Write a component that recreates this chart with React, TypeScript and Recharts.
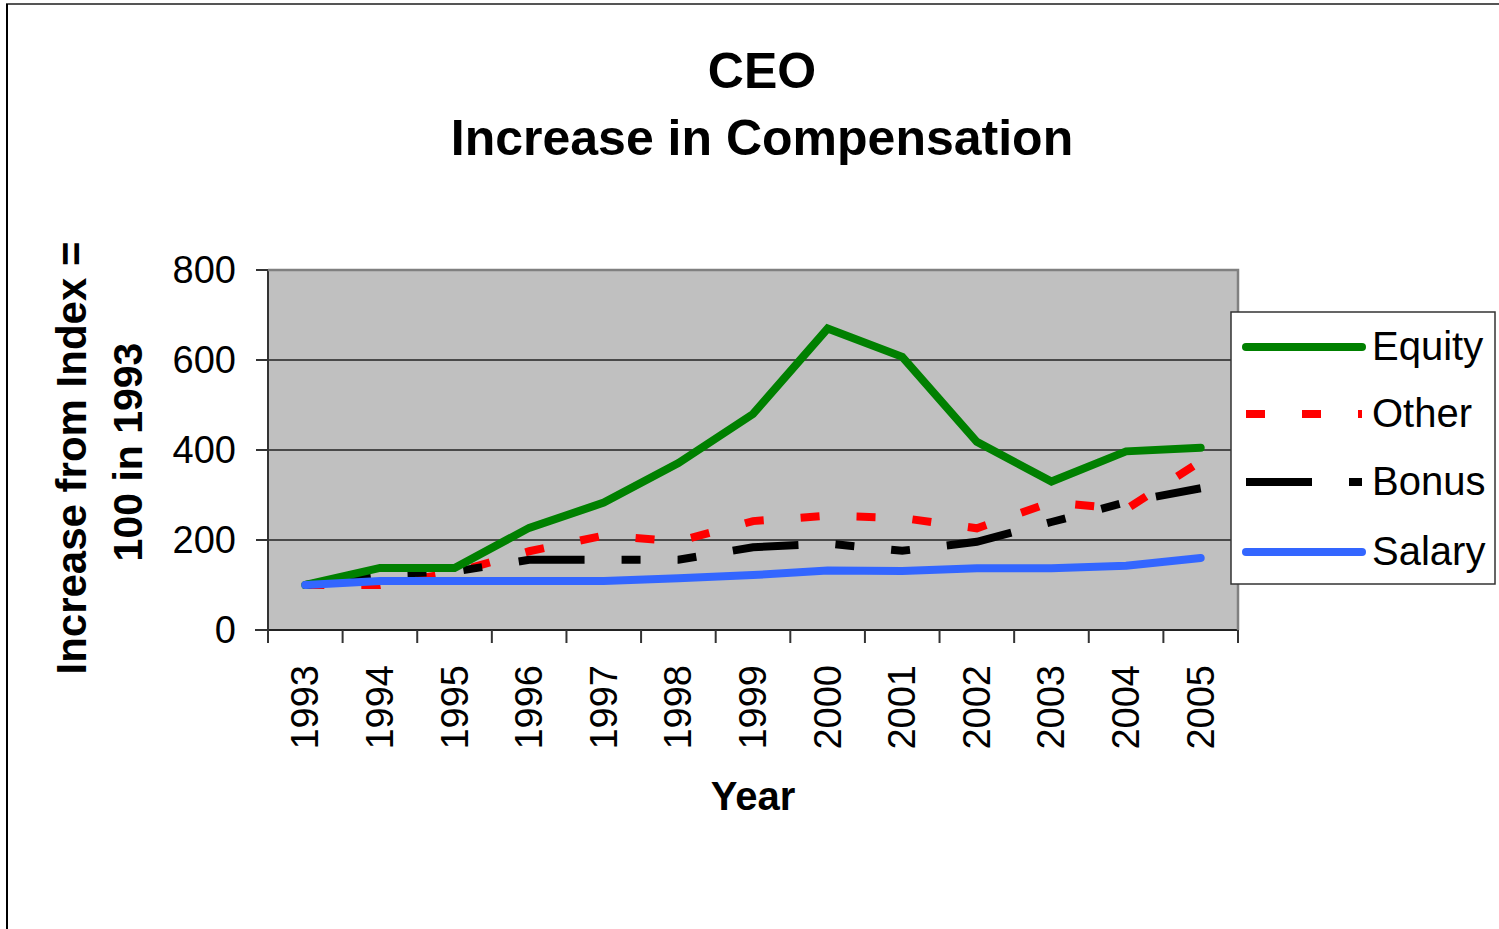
import React from 'react';
import { LineChart, Line, XAxis, YAxis, CartesianGrid, ReferenceLine } from 'recharts';

const years = ['1993', '1994', '1995', '1996', '1997', '1998', '1999', '2000', '2001', '2002', '2003', '2004', '2005'];
const equity = [100, 138, 138, 227, 283, 371, 480, 670, 607, 418, 330, 397, 405];
const other = [100, 100, 128, 175, 210, 197, 242, 254, 249, 226, 284, 268, 375];
const bonus = [100, 124, 130, 156, 156, 156, 184, 192, 176, 196, 240, 284, 315];
const salary = [100, 109, 109, 109, 109, 115, 122, 132, 131, 137, 137, 143, 160];
const yTicks = [0, 200, 400, 600, 800];
const gridValues = [200, 400, 600];

const data = years.map((year, i) => ({
  year,
  equity: equity[i],
  other: other[i],
  bonus: bonus[i],
  salary: salary[i],
}));

const FONT = '"Liberation Sans", Arial, sans-serif';
const PLOT_LEFT = 268;
const PLOT_RIGHT = 1238;
const PLOT_TOP = 270;
const PLOT_BOTTOM = 630;
const BAND = (PLOT_RIGHT - PLOT_LEFT) / years.length;

const YearTick = (props: any) => {
  const { x, payload, index } = props;
  const half = BAND / 2;
  const ty = 665;
  return (
    <g>
      {index === 0 && (
        <line x1={255} y1={PLOT_BOTTOM} x2={PLOT_LEFT} y2={PLOT_BOTTOM} stroke="#333" strokeWidth={2} />
      )}
      <line x1={x - half} y1={PLOT_BOTTOM} x2={x - half} y2={643} stroke="#333" strokeWidth={2} />
      {index === years.length - 1 && (
        <line x1={x + half} y1={PLOT_BOTTOM} x2={x + half} y2={643} stroke="#333" strokeWidth={2} />
      )}
      <text
        x={x}
        y={ty}
        transform={`rotate(-90 ${x} ${ty})`}
        textAnchor="end"
        dominantBaseline="central"
        fontSize={38}
        fontFamily={FONT}
        fill="#000"
      >
        {payload.value}
      </text>
    </g>
  );
};

const legendItems = [
  { name: 'Equity', color: '#008000', dash: undefined, cap: 'round' },
  { name: 'Other', color: '#ff0000', dash: '19 37', cap: 'butt' },
  { name: 'Bonus', color: '#000000', dash: '66 37 19 37', cap: 'butt' },
  { name: 'Salary', color: '#3366ff', dash: undefined, cap: 'round' },
];

export default function App() {
  return (
    <div style={{ position: 'absolute', left: 0, top: 0, width: 1499, height: 929, background: '#fff', fontFamily: FONT }}>
      <LineChart
        width={1499}
        height={929}
        data={data}
        margin={{ top: PLOT_TOP, right: 1499 - PLOT_RIGHT, bottom: 159, left: 168 }}
      >
        <CartesianGrid horizontal={false} vertical={false} fill="#c0c0c0" fillOpacity={1} />
        {gridValues.map((v) => (
          <ReferenceLine key={v} y={v} stroke="#222" strokeWidth={1.5} />
        ))}
        <XAxis
          dataKey="year"
          height={140}
          padding={{ left: BAND / 2, right: BAND / 2 }}
          interval={0}
          tickLine={false}
          axisLine={{ stroke: '#222', strokeWidth: 2 }}
          tick={YearTick}
        />
        <YAxis
          width={100}
          domain={[0, 800]}
          ticks={yTicks}
          interval={0}
          tickSize={12}
          tickMargin={20}
          axisLine={{ stroke: '#333', strokeWidth: 2 }}
          tickLine={{ stroke: '#333', strokeWidth: 2 }}
          tick={{ fontSize: 38, fill: '#000', fontFamily: FONT }}
        />
        <Line type="linear" dataKey="other" stroke="#ff0000" strokeWidth={8} strokeDasharray="19 37" strokeLinecap="butt" dot={false} activeDot={false} isAnimationActive={false} />
        <Line type="linear" dataKey="bonus" stroke="#000000" strokeWidth={8} strokeDasharray="66 37 19 37 19 37" strokeLinecap="butt" dot={false} activeDot={false} isAnimationActive={false} />
        <Line type="linear" dataKey="equity" stroke="#008000" strokeWidth={8} strokeLinecap="round" dot={false} activeDot={false} isAnimationActive={false} />
        <Line type="linear" dataKey="salary" stroke="#3366ff" strokeWidth={8} strokeLinecap="round" dot={false} activeDot={false} isAnimationActive={false} />
      </LineChart>

      <svg width={1499} height={929} style={{ position: 'absolute', left: 0, top: 0, pointerEvents: 'none' }}>
        {/* outer frame */}
        <line x1={6} y1={4} x2={1499} y2={4} stroke="#555" strokeWidth={2} />
        <line x1={7} y1={4} x2={7} y2={929} stroke="#000" strokeWidth={2} />

        {/* plot border, top and right */}
        <polyline
          points={`${PLOT_LEFT},${PLOT_TOP} ${PLOT_RIGHT},${PLOT_TOP} ${PLOT_RIGHT},${PLOT_BOTTOM}`}
          fill="none"
          stroke="#808080"
          strokeWidth={2.5}
        />

        {/* title */}
        <text x={762} y={88} textAnchor="middle" fontSize={50} fontWeight="bold" fontFamily={FONT}>CEO</text>
        <text x={762} y={155} textAnchor="middle" fontSize={50} fontWeight="bold" fontFamily={FONT}>Increase in Compensation</text>

        {/* axis titles */}
        <text x={753} y={810} textAnchor="middle" fontSize={40} fontWeight="bold" fontFamily={FONT}>Year</text>
        <text x={86} y={458} transform="rotate(-90 86 458)" textAnchor="middle" fontSize={42} fontWeight="bold" fontFamily={FONT}>
          Increase from Index =
        </text>
        <text x={142} y={452} transform="rotate(-90 142 452)" textAnchor="middle" fontSize={41} fontWeight="bold" fontFamily={FONT}>
          100 in 1993
        </text>

        {/* legend */}
        <rect x={1231} y={312} width={264} height={272} fill="#fff" stroke="#333" strokeWidth={1.5} />
        {legendItems.map((item, i) => {
          const cy = [347, 414, 482, 552][i];
          return (
            <g key={item.name}>
              <line
                x1={1246}
                y1={cy}
                x2={1362}
                y2={cy}
                stroke={item.color}
                strokeWidth={8}
                strokeDasharray={item.dash}
                strokeLinecap={item.cap as any}
              />
              <text x={1372} y={cy + 13} fontSize={40} fontFamily={FONT} fill="#000">{item.name}</text>
            </g>
          );
        })}
      </svg>
    </div>
  );
}
